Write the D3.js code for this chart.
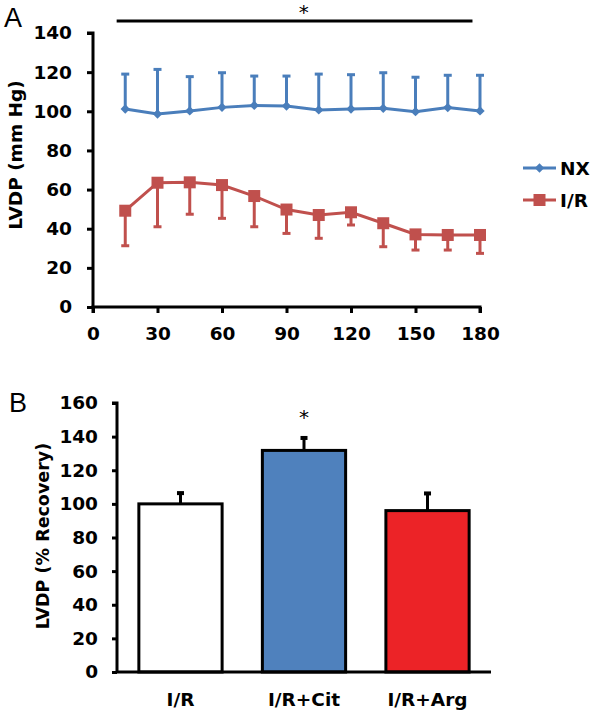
<!DOCTYPE html>
<html><head><meta charset="utf-8">
<script src="https://cdn.jsdelivr.net/npm/d3@7"></script>
<style>body{margin:0;background:#fff}svg{display:block}</style>
</head><body>
<svg id="c" width="590" height="712"></svg>
<script>
// Panel A data
const times = [15,30,45,60,75,90,105,120,135,150,165,180];
const nxMean = [101.2,98.6,100.2,102.0,103.0,102.7,100.7,101.2,101.5,99.8,101.9,100.2];
const nxSD   = [17.8,22.8,17.5,17.7,15.0,15.3,18.3,17.5,18.2,17.6,16.5,18.2];
const irMean = [49.2,63.5,63.7,62.3,56.7,49.8,47.0,48.4,42.8,37.1,36.8,36.8];
const irSD   = [17.9,22.5,16.3,17.0,15.7,12.2,11.9,6.5,12.0,8.0,7.7,9.4];
const xTicksA = [0,30,60,90,120,150,180];
const yTicksA = [0,20,40,60,80,100,120,140];
const seriesNames = ["NX","I/R"];
// Panel B data
const groups = ["I/R","I/R+Cit","I/R+Arg"];
const barVals = [100,131.8,96];
const barSD = [7,8,10.8];
const yTicksB = [0,20,40,60,80,100,120,140,160];

const blue = "#4a7ebb", red = "#c0504d";
const barFill = ["#ffffff","#4f81bd","#ec2327"];
const svg = d3.select("#c");
const F = "'DejaVu Sans', sans-serif";
const FL = "'Liberation Sans', Arial, sans-serif";

// ---------- Panel A ----------
const xA = d3.scaleLinear().domain([0,180]).range([93,480]);
const yA = d3.scaleLinear().domain([0,140]).range([307,33]);

const gA = svg.append("g");
const axXA = gA.append("g").attr("transform","translate(0,307)")
  .call(d3.axisBottom(xA).tickValues(xTicksA).tickSize(6).tickPadding(14));
const axYA = gA.append("g").attr("transform","translate(93,0)")
  .call(d3.axisLeft(yA).tickValues(yTicksA).tickSize(6).tickPadding(15));
[axXA,axYA].forEach(a=>{
  a.select(".domain").attr("stroke","#000").attr("stroke-width",3);
  a.selectAll(".tick line").attr("stroke","#000").attr("stroke-width",3);
  a.selectAll("text").attr("font-family",F).attr("font-weight","bold").attr("font-size",18.5).attr("fill","#000");
});
axXA.select(".domain").attr("d",`M${xA(0)},0V6V0H${xA(180)}V6`);
axYA.select(".domain").attr("d",`M-6,${yA(140)}H0V${yA(0)}`);

gA.append("text").attr("transform",`translate(22,155) rotate(-90)`)
  .attr("text-anchor","middle").attr("font-family",F).attr("font-weight","bold").attr("font-size",18.5)
  .text("LVDP (mm Hg)");
gA.append("text").attr("x",4).attr("y",27).attr("font-family",FL).attr("font-size",27).text("A");

// significance bar
gA.append("line").attr("x1",xA(11)).attr("x2",xA(176.5)).attr("y1",21).attr("y2",21).attr("stroke","#000").attr("stroke-width",3);
gA.append("text").attr("x",xA(98)).attr("y",19).attr("text-anchor","middle").attr("font-family",F).attr("font-size",20).text("*");

function drawSeries(mean, sd, dir, color, shape){
  const g = gA.append("g");
  times.forEach((t,i)=>{
    const y2 = yA(mean[i] + dir*sd[i]);
    g.append("line").attr("x1",xA(t)).attr("x2",xA(t)).attr("y1",yA(mean[i])).attr("y2",y2).attr("stroke",color).attr("stroke-width",3);
    g.append("line").attr("x1",xA(t)-4).attr("x2",xA(t)+4).attr("y1",y2).attr("y2",y2).attr("stroke",color).attr("stroke-width",3);
  });
  g.append("path").datum(times.map((t,i)=>[t,mean[i]]))
    .attr("d",d3.line().x(d=>xA(d[0])).y(d=>yA(d[1])))
    .attr("fill","none").attr("stroke",color).attr("stroke-width",3);
  times.forEach((t,i)=>{
    if(shape==="diamond"){
      g.append("path").attr("d",d3.symbol(d3.symbolSquare, 44)())
        .attr("transform",`translate(${xA(t)},${yA(mean[i])}) rotate(45)`).attr("fill",color);
    } else {
      g.append("rect").attr("x",xA(t)-6).attr("y",yA(mean[i])-6).attr("width",12).attr("height",12).attr("fill",color);
    }
  });
}
drawSeries(nxMean, nxSD, 1, blue, "diamond");
drawSeries(irMean, irSD, -1, red, "square");

// legend
const leg = gA.append("g");
[[seriesNames[0],blue,"diamond",168],[seriesNames[1],red,"square",200]].forEach(([n,c,s,y])=>{
  leg.append("line").attr("x1",523).attr("x2",556).attr("y1",y).attr("y2",y).attr("stroke",c).attr("stroke-width",3);
  if(s==="diamond") leg.append("path").attr("d",d3.symbol(d3.symbolSquare,44)()).attr("transform",`translate(539.5,${y}) rotate(45)`).attr("fill",c);
  else leg.append("rect").attr("x",533.5).attr("y",y-6).attr("width",12).attr("height",12).attr("fill",c);
  leg.append("text").attr("x",560).attr("y",y).attr("dy","0.36em").attr("font-family",F).attr("font-weight","bold").attr("font-size",18.5).text(n);
});

// ---------- Panel B ----------
const xB = d3.scaleBand().domain(groups).range([117,491]).paddingInner(0.326).paddingOuter(0.177);
const yB = d3.scaleLinear().domain([0,160]).range([672,403]);
const gB = svg.append("g");

gB.selectAll("rect.bar").data(groups).enter().append("rect").attr("class","bar")
  .attr("x",d=>xB(d)).attr("width",xB.bandwidth())
  .attr("y",(d,i)=>yB(barVals[i])).attr("height",(d,i)=>yB(0)-yB(barVals[i]))
  .attr("fill",(d,i)=>barFill[i]).attr("stroke","#000").attr("stroke-width",3);
groups.forEach((d,i)=>{
  const cx = xB(d)+xB.bandwidth()/2;
  gB.append("line").attr("x1",cx).attr("x2",cx).attr("y1",yB(barVals[i])).attr("y2",yB(barVals[i]+barSD[i])).attr("stroke","#000").attr("stroke-width",3);
  gB.append("rect").attr("x",cx-3.5).attr("y",yB(barVals[i]+barSD[i])-1).attr("width",7).attr("height",4).attr("fill","#000");
});
gB.append("text").attr("x",xB(groups[1])+xB.bandwidth()/2).attr("y",424).attr("text-anchor","middle").attr("font-family",F).attr("font-size",20).text("*");

const axYB = gB.append("g").attr("transform","translate(117,0)")
  .call(d3.axisLeft(yB).tickValues(yTicksB).tickSize(5).tickPadding(14));
const axXB = gB.append("g").attr("transform","translate(0,672)")
  .call(d3.axisBottom(xB).tickSize(0).tickPadding(21));
axYB.select(".domain").attr("d",`M-5,${yB(160)}H0V${yB(0)}`);
axXB.select(".domain").attr("d",`M117,0H491`);
[axXB,axYB].forEach(a=>{
  a.select(".domain").attr("stroke","#000").attr("stroke-width",3);
  a.selectAll(".tick line").attr("stroke","#000").attr("stroke-width",3);
  a.selectAll("text").attr("font-family",F).attr("font-weight","bold").attr("font-size",18.5).attr("fill","#000");
});
gB.append("text").attr("transform",`translate(43,536) rotate(-90)`)
  .attr("text-anchor","middle").attr("dy","0.36em").attr("font-family",F).attr("font-weight","bold").attr("font-size",17.5)
  .text("LVDP (% Recovery)");
gB.append("text").attr("x",9).attr("y",412).attr("font-family",FL).attr("font-size",27).text("B");
</script>
</body></html>
